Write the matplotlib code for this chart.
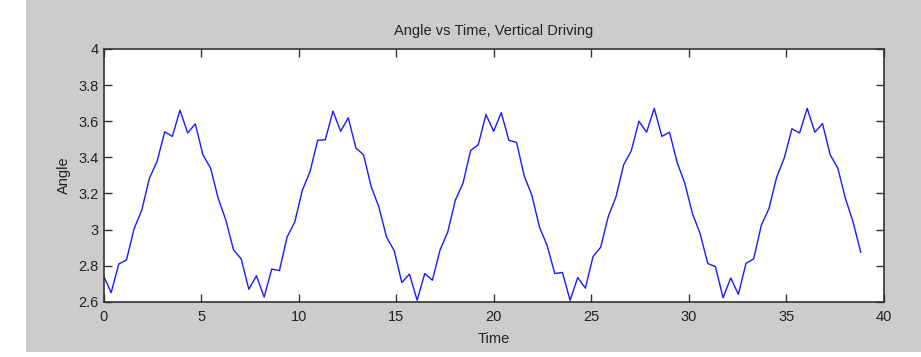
import numpy as np
import matplotlib
matplotlib.use("Agg")
from matplotlib import pyplot as plt
from matplotlib.patches import Rectangle

dt = 0.392
angle = [
    2.744, 2.650, 2.809, 2.831, 3.004, 3.107, 3.284, 3.377, 3.541, 3.516,
    3.661, 3.535, 3.585, 3.414, 3.340, 3.172, 3.051, 2.887, 2.837, 2.669,
    2.744, 2.626, 2.781, 2.772, 2.958, 3.041, 3.218, 3.321, 3.494, 3.497,
    3.656, 3.544, 3.619, 3.451, 3.414, 3.237, 3.125, 2.958, 2.883, 2.706,
    2.753, 2.608, 2.756, 2.719, 2.887, 2.985, 3.163, 3.256, 3.438, 3.470,
    3.637, 3.544, 3.647, 3.494, 3.483, 3.297, 3.190, 3.013, 2.911, 2.756,
    2.762, 2.608, 2.734, 2.675, 2.850, 2.902, 3.073, 3.181, 3.358, 3.436,
    3.600, 3.539, 3.671, 3.516, 3.539, 3.371, 3.256, 3.088, 2.977, 2.812,
    2.794, 2.622, 2.731, 2.641, 2.812, 2.837, 3.023, 3.116, 3.289, 3.396,
    3.558, 3.535, 3.671, 3.539, 3.587, 3.414, 3.340, 3.172, 3.041, 2.874,
]
time = np.arange(len(angle)) * dt

xticks = [0, 5, 10, 15, 20, 25, 30, 35, 40]
yticks = [2.6, 2.8, 3.0, 3.2, 3.4, 3.6, 3.8, 4.0]
ytick_labels = ["2.6", "2.8", "3", "3.2", "3.4", "3.6", "3.8", "4"]

plt.rcParams["font.family"] = ["Liberation Sans", "DejaVu Sans"]
text_color = "#222222"

fig = plt.figure(figsize=(9.21, 3.57), dpi=100, facecolor="white")
# grey MATLAB-style figure window background, kept behind the axes
fig.patches.append(Rectangle((26 / 921, 5 / 357), 1 - 26 / 921, 1 - 5 / 357,
                             transform=fig.transFigure, facecolor="#cccccc",
                             edgecolor="none", zorder=-10))

ax = fig.add_axes([103.5 / 921, 55.3 / 357, 780.5 / 921, 252.7 / 357])
ax.set_facecolor("white")
ax.plot(time, angle, color="#1a1aff", lw=1.0)

ax.set_xlim(0, 40)
ax.set_ylim(2.6, 4.0)
ax.set_xticks(xticks)
ax.set_yticks(yticks)
ax.set_yticklabels(ytick_labels)

ax.tick_params(direction="in", length=6, width=1, top=True, right=True,
               labelsize=10.5, colors="#333333", labelcolor=text_color)
ax.tick_params(axis="x", pad=6)
ax.tick_params(axis="y", pad=3.5)
for spine in ax.spines.values():
    spine.set_color("#333333")
    spine.set_linewidth(1.2)

ax.set_title("Angle vs Time, Vertical Driving", fontsize=10.5,
             color=text_color, pad=10)
ax.set_xlabel("Time", fontsize=10.5, color=text_color, labelpad=6)
ax.set_ylabel("Angle", fontsize=10.5, color=text_color, labelpad=5)

fig.savefig("out.png", dpi=100, facecolor=fig.get_facecolor())
